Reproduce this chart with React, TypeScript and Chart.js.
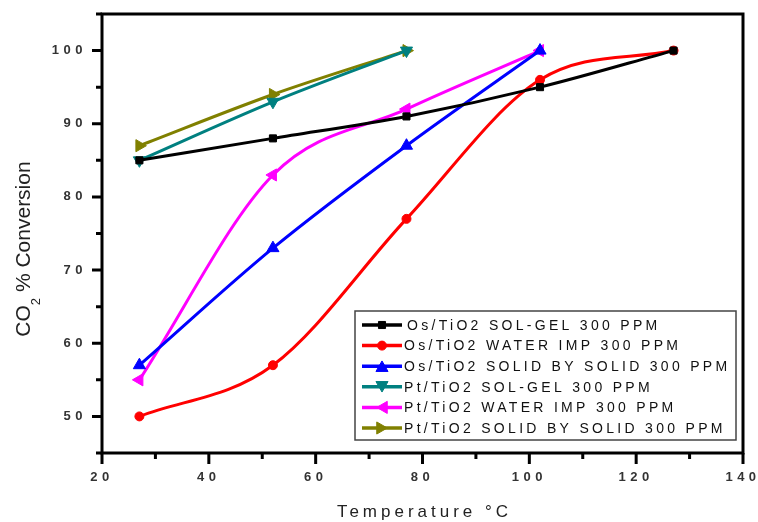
import React, { useEffect, useRef } from "react";
import { Chart, registerables } from "chart.js";

Chart.register(...registerables);

const temps = [27, 52, 77, 102, 127];
const seriesLabels = [
  "Os/TiO2 SOL-GEL 300 PPM",
  "Os/TiO2 WATER IMP 300 PPM",
  "Os/TiO2 SOLID BY SOLID 300 PPM",
  "Pt/TiO2 SOL-GEL 300 PPM",
  "Pt/TiO2 WATER IMP 300 PPM",
  "Pt/TiO2 SOLID BY SOLID 300 PPM",
];
const osSolGel = [85, 88, 91, 95, 100];
const osWaterImp = [50, 57, 77, 96, 100];
const osSolid = [57, 73, 87, 100];
const ptSolGel = [85, 93, 100];
const ptWaterImp = [55, 83, 92, 100];
const ptSolid = [87, 94, 100];

const colors = ["#000000", "#ff0000", "#0000ff", "#008080", "#ff00ff", "#808000"];
const shapes = ["rect", "circle", "triangle", "triangle", "triangle", "triangle"];
const rotations = [0, 0, 0, 180, 270, 90];
const radii = [5, 4.5, 7, 7, 7, 7];
const allSeries = [osSolGel, osWaterImp, osSolid, ptSolGel, ptWaterImp, ptSolid];

const xTitle = "Temperature °C";
const FONT = "'Liberation Sans', Arial, sans-serif";

function drawMarker(ctx: CanvasRenderingContext2D, shape: string, x: number, y: number, r: number, rot: number, color: string) {
  ctx.save();
  ctx.fillStyle = color;
  ctx.strokeStyle = color;
  ctx.lineWidth = 1;
  ctx.translate(x, y);
  ctx.rotate((rot * Math.PI) / 180);
  ctx.beginPath();
  if (shape === "circle") {
    ctx.arc(0, 0, r, 0, Math.PI * 2);
  } else if (shape === "rect") {
    const s = r * Math.SQRT1_2;
    ctx.rect(-s, -s, 2 * s, 2 * s);
  } else {
    const a = -Math.PI / 2;
    for (let k = 0; k < 3; k++) {
      const ang = a + (k * 2 * Math.PI) / 3;
      const px = Math.cos(ang) * r;
      const py = Math.sin(ang) * r + r * 0.25;
      if (k === 0) ctx.moveTo(px, py);
      else ctx.lineTo(px, py);
    }
    ctx.closePath();
  }
  ctx.fill();
  ctx.stroke();
  ctx.restore();
}

const decorPlugin = {
  id: "decor",
  beforeDraw(chart: any) {
    (chart.ctx as any).letterSpacing = "4.5px";
  },
  beforeDatasetsDraw(chart: any) {
    (chart.ctx as any).letterSpacing = "0px";
  },
  afterDraw(chart: any) {
    const ctx: CanvasRenderingContext2D = chart.ctx;
    const { left, right, top, bottom } = chart.chartArea;
    const xs = chart.scales.x;
    const ys = chart.scales.y;
    ctx.save();
    (ctx as any).letterSpacing = "0px";
    // frame
    ctx.strokeStyle = "#000";
    ctx.lineWidth = 3;
    ctx.strokeRect(left, top, right - left, bottom - top);
    // ticks
    ctx.lineCap = "butt";
    ctx.beginPath();
    xs.ticks.forEach((t: any) => {
      const px = xs.getPixelForValue(t.value);
      const len = t.value % 20 === 0 ? 11 : 6;
      ctx.moveTo(px, bottom);
      ctx.lineTo(px, bottom + len);
    });
    ys.ticks.forEach((t: any) => {
      const py = ys.getPixelForValue(t.value);
      const len = t.value % 10 === 0 ? 10 : 6;
      ctx.moveTo(left, py);
      ctx.lineTo(left - len, py);
    });
    ctx.stroke();

    // y title
    ctx.fillStyle = "#222";
    ctx.save();
    ctx.translate(30, 249);
    ctx.rotate(-Math.PI / 2);
    ctx.font = `21px ${FONT}`;
    const w1 = ctx.measureText("CO").width;
    ctx.font = `13px ${FONT}`;
    const w2 = ctx.measureText("2").width;
    ctx.font = `21px ${FONT}`;
    const w3 = ctx.measureText(" % Conversion").width;
    let sx = -(w1 + w2 + w3) / 2;
    ctx.textBaseline = "alphabetic";
    ctx.textAlign = "left";
    ctx.fillText("CO", sx, 0);
    sx += w1;
    ctx.font = `13px ${FONT}`;
    ctx.fillText("2", sx, 10);
    sx += w2;
    ctx.font = `21px ${FONT}`;
    ctx.fillText(" % Conversion", sx, 0);
    ctx.restore();

    // x title
    ctx.save();
    ctx.font = `17px ${FONT}`;
    (ctx as any).letterSpacing = "4px";
    ctx.textAlign = "center";
    ctx.textBaseline = "alphabetic";
    ctx.fillStyle = "#222";
    ctx.fillText(xTitle, (left + right) / 2 + 2, 517);
    ctx.restore();

    // legend
    ctx.save();
    ctx.strokeStyle = "#444";
    ctx.lineWidth = 1.5;
    ctx.strokeRect(355, 311, 381, 129);
    chart.data.datasets.forEach((ds: any, i: number) => {
      const cy = 325 + i * 20.6;
      ctx.strokeStyle = ds.borderColor;
      ctx.lineWidth = 3.5;
      ctx.beginPath();
      ctx.moveTo(362, cy);
      ctx.lineTo(402, cy);
      ctx.stroke();
      drawMarker(ctx, shapes[i], 382, cy, radii[i], rotations[i], ds.borderColor);
      ctx.font = `14px ${FONT}`;
      (ctx as any).letterSpacing = "3.3px";
      ctx.fillStyle = "#111";
      ctx.textAlign = "left";
      ctx.textBaseline = "middle";
      ctx.fillText(ds.label, i === 0 ? 407 : 404, cy + 1);
      (ctx as any).letterSpacing = "0px";
    });
    ctx.restore();
    ctx.restore();
  },
};

export default function App() {
  const ref = useRef<HTMLCanvasElement | null>(null);
  useEffect(() => {
    if (!ref.current) return;
    const datasets = allSeries.map((vals, i) => ({
      label: seriesLabels[i],
      data: vals.map((v, k) => ({ x: temps[k], y: v })),
      borderColor: colors[i],
      backgroundColor: colors[i],
      pointBackgroundColor: colors[i],
      pointBorderColor: colors[i],
      borderWidth: 3,
      pointRadius: radii[i],
      pointStyle: shapes[i],
      pointRotation: rotations[i],
      pointBorderWidth: 1,
      cubicInterpolationMode: "monotone" as const,
      fill: false,
    }));
    const tickFont = { family: FONT, size: 13, weight: "bold" as const };
    const chart = new Chart(ref.current, {
      type: "line",
      data: { datasets },
      options: {
        animation: false,
        responsive: false,
        devicePixelRatio: 1,
        layout: { padding: { left: 0, top: 14, right: 15, bottom: 0 } },
        plugins: { legend: { display: false }, tooltip: { enabled: false } },
        scales: {
          x: {
            type: "linear",
            min: 20,
            max: 140,
            grid: { display: false, drawTicks: false },
            border: { display: false },
            ticks: {
              stepSize: 10,
              autoSkip: false,
              maxRotation: 0,
              padding: 17,
              color: "#333",
              font: tickFont,
              callback: (v: any) => (Number(v) % 20 === 0 ? String(v) : ""),
            },
            afterFit: (s: any) => {
              s.height = 69;
              s.paddingLeft = 0;
              s.paddingRight = 0;
            },
          },
          y: {
            type: "linear",
            min: 45,
            max: 105,
            grid: { display: false, drawTicks: false },
            border: { display: false },
            ticks: {
              stepSize: 5,
              autoSkip: false,
              padding: 15,
              color: "#333",
              font: tickFont,
              callback: (v: any) => (Number(v) % 10 === 0 ? String(v) : ""),
            },
            afterFit: (s: any) => {
              s.width = 102;
              s.paddingTop = 0;
              s.paddingBottom = 0;
            },
          },
        },
      },
      plugins: [decorPlugin],
    });
    return () => chart.destroy();
  }, []);
  return (
    <div style={{ position: "absolute", left: 0, top: 0, width: 758, height: 522, background: "#fff" }}>
      <canvas ref={ref} width={758} height={522} style={{ display: "block" }} />
    </div>
  );
}
